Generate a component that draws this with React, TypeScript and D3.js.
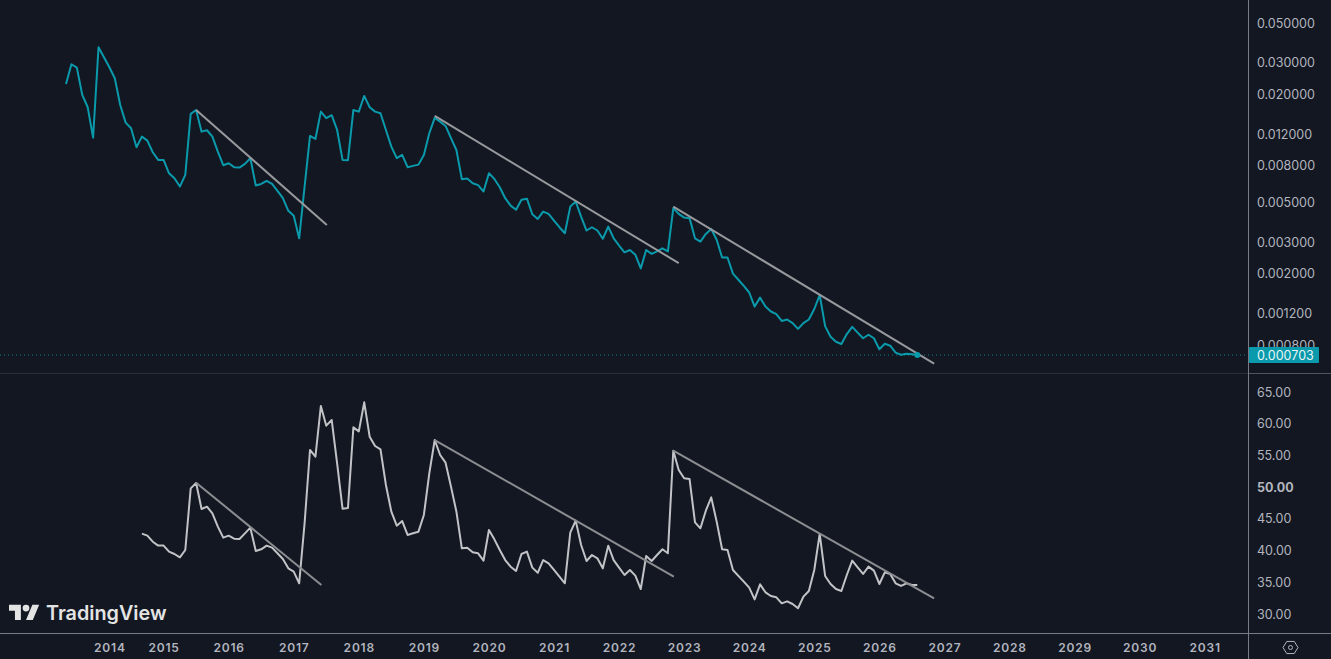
import { useEffect, useRef } from "react"
import * as d3 from "d3";

const WIDTH = 1331;
const HEIGHT = 659;
const axisX = 1248;
const bg = "#121722";
const teal = "#0a9aab";
const FONT = "Inter, Roboto, sans-serif";

// monthly closes, first bar is Jul 2013
const priceValues: number[] = [
    0.02286, 0.02943, 0.02818, 0.01985, 0.01695, 0.01147, 0.0366, 0.0322, 0.02833, 0.0246,
    0.01746, 0.01391, 0.01295, 0.01014, 0.01162, 0.01104, 0.00951, 0.00862, 0.00862, 0.00726,
    0.00681, 0.00612, 0.00711, 0.01556, 0.01637, 0.01239, 0.01261, 0.01162, 0.00959, 0.00805,
    0.00826, 0.00785, 0.00781, 0.00819, 0.00881, 0.0062, 0.00633, 0.00658, 0.00633, 0.00579,
    0.00527, 0.00448, 0.00421, 0.00315, 0.00612, 0.01172, 0.01128, 0.01602, 0.01472, 0.0153,
    0.01266, 0.00862, 0.00858, 0.01637, 0.01602, 0.0196, 0.01695, 0.01602, 0.0157, 0.01266,
    0.01022, 0.00881, 0.00919, 0.00785, 0.00798, 0.00811, 0.00919, 0.01214, 0.01478, 0.01409,
    0.01333, 0.01139, 0.00979, 0.00673, 0.00678, 0.00639, 0.00623, 0.00574, 0.00726, 0.00675,
    0.00607, 0.00527, 0.00479, 0.00454, 0.00516, 0.00524, 0.00429, 0.00404, 0.00444, 0.00431,
    0.00395, 0.00363, 0.00336, 0.00473, 0.00505, 0.00416, 0.00348, 0.00363, 0.00348, 0.00313,
    0.00366, 0.00315, 0.00287, 0.00263, 0.00271, 0.00255, 0.00214, 0.00271, 0.00258, 0.00266,
    0.00277, 0.00266, 0.00464, 0.00431, 0.00411, 0.00408, 0.00315, 0.00302, 0.00333, 0.00355,
    0.00309, 0.00246, 0.00246, 0.002, 0.00185, 0.00171, 0.00157, 0.00131, 0.00147, 0.00131,
    0.00123, 0.00119, 0.00109, 0.00111, 0.00106, 0.000984, 0.00106, 0.00111, 0.00127, 0.00152,
    0.00102, 0.00089, 0.000834, 0.00081, 0.000921, 0.00101, 0.000937, 0.000872, 0.000913, 0.000872,
    0.000757, 0.000813, 0.000793, 0.000725, 0.000706, 0.000715, 0.00071, 0.000703,
];

// RSI, first value is Sep 2014
const rsiOffset = 14;
const rsiValues: number[] = [
    42.67, 42.35, 41.4, 40.78, 40.78, 39.83, 39.46, 38.94, 40.09, 49.81,
    50.65, 46.56, 46.92, 45.87, 43.77, 42.04, 42.35, 41.88, 41.83, 42.72,
    43.61, 39.93, 40.2, 40.78, 40.46, 39.57, 38.67, 37.2, 36.68, 34.84,
    44.3, 55.86, 54.81, 62.79, 59.69, 60.59, 53.75, 46.61, 46.72, 59.43,
    58.8, 63.37, 57.96, 56.49, 55.96, 50.34, 46.14, 43.93, 44.66, 42.46,
    42.72, 42.98, 45.61, 52.18, 57.43, 55.07, 53.86, 50.08, 46.14, 40.36,
    40.46, 39.72, 39.57, 38.41, 43.25, 41.77, 40.09, 38.5, 37.46, 36.78,
    39.46, 39.83, 37.31, 36.5, 38.5, 37.99, 36.94, 35.89, 34.84, 42.82,
    44.72, 40.88, 38.36, 39.3, 38.78, 37.2, 40.77, 38.5, 37.31, 36.15,
    36.94, 36.05, 33.94, 39.15, 38.36, 39.3, 40.2, 39.57, 55.75, 52.7,
    51.39, 51.28, 44.45, 43.51, 46.29, 48.39, 44.56, 40.2, 40.09, 36.94,
    36.0, 35.1, 34.15, 32.31, 34.68, 33.42, 32.84, 32.63, 31.68, 32.0,
    31.58, 30.9, 32.73, 33.63, 36.94, 42.62, 36.0, 34.73, 33.94, 33.63,
    36.15, 38.41, 37.36, 36.31, 37.47, 36.84, 34.73, 36.57, 36.31, 34.84,
    34.42, 34.84, 34.57, 34.57,
];

// trendlines as [month index, value] pairs
const priceTrends: [number, number][][] = [
    [[24, 0.01637], [48.1, 0.00374]],
    [[68, 0.01516], [113, 0.00229]],
    [[112, 0.00473], [160.1, 0.00063]],
];
const rsiTrends: [number, number][][] = [
    [[24, 50.7], [47.1, 34.57]],
    [[68, 57.43], [112.1, 35.89]],
    [[112, 55.75], [160.1, 32.47]],
];

const priceTicks = [0.05, 0.03, 0.02, 0.012, 0.008, 0.005, 0.003, 0.002, 0.0012, 0.0008];
const rsiTicks = [65, 60, 55, 50, 45, 40, 35, 30];
const yearLabels = ["2014", "2015", "2016", "2017", "2018", "2019", "2020", "2021", "2022", "2023", "2024", "2025", "2026", "2027", "2028", "2029", "2030", "2031"];
// month index of each year label, 2014 sits late because the axis starts there
const yearMonths = [8, 18, 30, 42, 54, 66, 78, 90, 102, 114, 126, 138, 150, 162, 174, 186, 198, 210];

export default function App() {
    const svgRef = useRef<SVGSVGElement | null>(null);

    useEffect(() => {
        document.body.style.margin = "0";
        document.body.style.background = bg;

        const x = d3.scaleLinear().domain([0, 157]).range([66, 917.3]);
        const priceY = d3.scaleLog().domain([0.05, 0.0008]).range([23, 345]);
        const rsiY = d3.scaleLinear().domain([65, 30]).range([392, 614]);

        const svg = d3.select(svgRef.current);
        svg.selectAll("*").remove();

        svg.append("rect").attr("width", WIDTH).attr("height", HEIGHT).attr("fill", bg);

        const lastPrice = priceValues[priceValues.length - 1];

        // last price dotted line
        svg.append("line")
            .attr("x1", 0).attr("x2", axisX)
            .attr("y1", priceY(lastPrice)).attr("y2", priceY(lastPrice))
            .attr("stroke", teal)
            .attr("stroke-opacity", 0.8)
            .attr("stroke-width", 1)
            .attr("stroke-dasharray", "1 3");

        const priceLine = d3.line<number>().x((_, i) => x(i)).y(d => priceY(d));
        const rsiLine = d3.line<number>().x((_, i) => x(i + rsiOffset)).y(d => rsiY(d));

        svg.append("path")
            .attr("d", priceLine(priceValues))
            .attr("fill", "none").attr("stroke", teal).attr("stroke-width", 2).attr("stroke-linejoin", "round");
        svg.append("path")
            .attr("d", rsiLine(rsiValues))
            .attr("fill", "none").attr("stroke", "#c2c3c6").attr("stroke-width", 2).attr("stroke-linejoin", "round");

        const trendP = d3.line<[number, number]>().x(d => x(d[0])).y(d => priceY(d[1]));
        const trendR = d3.line<[number, number]>().x(d => x(d[0])).y(d => rsiY(d[1]));
        priceTrends.forEach(t => {
            svg.append("path").attr("d", trendP(t)).attr("fill", "none").attr("stroke", "#98999d").attr("stroke-width", 2);
        });
        rsiTrends.forEach(t => {
            svg.append("path").attr("d", trendR(t)).attr("fill", "none").attr("stroke", "#8c8d91").attr("stroke-width", 2);
        });

        svg.append("circle")
            .attr("cx", x(priceValues.length - 1)).attr("cy", priceY(lastPrice))
            .attr("r", 3).attr("fill", teal);

        // pane borders
        svg.append("line").attr("x1", 0).attr("x2", axisX).attr("y1", 373.5).attr("y2", 373.5).attr("stroke", "#2a2e39");
        svg.append("line").attr("x1", axisX).attr("x2", WIDTH).attr("y1", 373.5).attr("y2", 373.5).attr("stroke", "#50535e");
        svg.append("line").attr("x1", 0).attr("x2", WIDTH).attr("y1", 633.5).attr("y2", 633.5).attr("stroke", "#787b86");
        svg.append("line").attr("x1", axisX + 0.5).attr("x2", axisX + 0.5).attr("y1", 0).attr("y2", HEIGHT).attr("stroke", "#787b86");

        // price axis
        const priceAxis = d3.axisRight(priceY)
            .tickValues(priceTicks)
            .tickFormat((d: any) => d3.format(".6f")(d))
            .tickSize(0)
            .tickPadding(9);
        const gP = svg.append("g").attr("transform", `translate(${axisX},0)`).call(priceAxis);
        gP.select(".domain").remove();

        const rsiAxis = d3.axisRight(rsiY)
            .tickValues(rsiTicks)
            .tickFormat((d: any) => d3.format(".2f")(d))
            .tickSize(0)
            .tickPadding(9);
        const gR = svg.append("g").attr("transform", `translate(${axisX},0)`).call(rsiAxis);
        gR.select(".domain").remove();
        gR.selectAll<SVGGElement, number>(".tick text")
            .attr("font-weight", (d: number) => d === 50 ? 700 : 400);

        svg.selectAll(".tick text")
            .attr("fill", "#b2b5be")
            .style("font-family", FONT)
            .style("font-size", "12.5px");

        // last price label
        svg.append("rect")
            .attr("x", 1249).attr("y", priceY(lastPrice) - 8)
            .attr("width", 70).attr("height", 16)
            .attr("rx", 1)
            .attr("fill", teal);
        svg.append("text")
            .attr("x", 1257).attr("y", priceY(lastPrice) + 4.5)
            .attr("fill", "#e8f6f8")
            .style("font-family", FONT).style("font-size", "12.5px")
            .text(d3.format(".6f")(lastPrice));

        // time axis
        svg.append("g")
            .selectAll("text")
            .data(yearLabels)
            .join("text")
            .attr("x", (_, i) => x(yearMonths[i]) + 0.5)
            .attr("y", 652)
            .attr("text-anchor", "middle")
            .attr("fill", "#b2b5be")
            .attr("font-weight", 600)
            .attr("letter-spacing", "0.8px")
            .style("font-family", FONT)
            .style("font-size", "12px")
            .text(d => d);

        // settings icon
        const hex = d3.line()(d3.range(6).map(k => {
            const a = Math.PI / 3 * k;
            return [1290.5 + 7.5 * Math.cos(a), 647.5 + 7 * Math.sin(a)] as [number, number];
        }));
        svg.append("path").attr("d", hex + "Z").attr("fill", "none").attr("stroke", "#b2b5be").attr("stroke-width", 1);
        svg.append("circle").attr("cx", 1290.5).attr("cy", 647.5).attr("r", 2).attr("fill", "none").attr("stroke", "#b2b5be");

        // logo
        const logo = svg.append("g").attr("transform", "translate(9,601.3) scale(0.85)").attr("fill", "#e4e4e4");
        logo.append("path").attr("d", "M14 22H7V11H0V4h14v18zM28 22h-8l7.5-18h8L28 22z");
        logo.append("circle").attr("cx", 20).attr("cy", 8).attr("r", 4);
        svg.append("text")
            .attr("x", 46).attr("y", 619.5)
            .attr("fill", "#e4e4e4")
            .attr("font-weight", 600)
            .style("font-family", "Inter, sans-serif")
            .style("font-size", "19.8px")
            .text("TradingView");
    }, [])

    return (
        <svg
            ref={svgRef}
            width={WIDTH}
            height={HEIGHT}
            style={{ position: "fixed", left: 0, top: 0, display: "block" }}
        />
    )
}
